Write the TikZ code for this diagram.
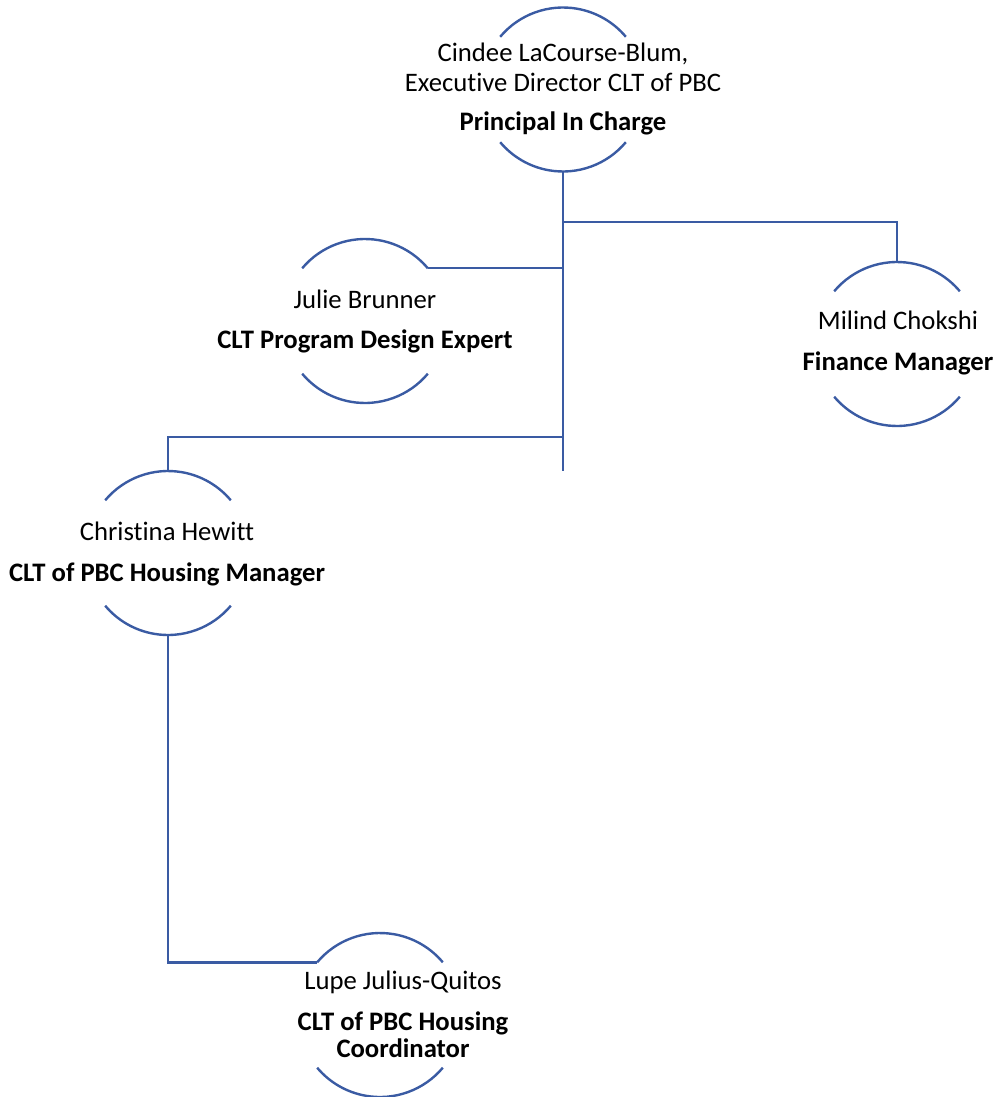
\documentclass[tikz,border=0pt]{standalone}
\usepackage{fontspec}
\setmainfont{Carlito}[Ligatures={NoCommon}]
\definecolor{lineblue}{HTML}{3A5BA3}
\newcommand{\orgperson}[3]{%
  \path (#2,#3) coordinate (#1)
    +(0,-82) coordinate (#1-top)
    +(0,82) coordinate (#1-bot)
    +(220:82) coordinate (#1-tl)
    +(320:82) coordinate (#1-tr)
    +(40:82) coordinate (#1-br);
  \draw[arcline] (#1-tl) arc[start angle=220, end angle=320, radius=82];
  \draw[arcline] (#1-br) arc[start angle=40, end angle=140, radius=82];
}
\begin{document}
\begin{tikzpicture}[x=1pt,y=-1pt,
  arcline/.style={draw=lineblue, line width=2.4pt},
  conn/.style={draw=lineblue, line width=2.4pt},
  nm/.style={anchor=base, inner sep=0pt, font=\fontsize{26.7}{30}\selectfont},
  ttl/.style={anchor=base, inner sep=0pt, font=\fontsize{26.7}{30}\selectfont\bfseries}]
\useasboundingbox (0,0) rectangle (996,1097);

\orgperson{cindee}{563}{89.5}
\orgperson{julie}{365}{321}
\orgperson{milind}{897}{344}
\orgperson{christina}{168}{553}
\orgperson{lupe}{380}{1015}

% texts
\node[nm] (cindee-n1) at (563,62) {Cindee LaCourse-Blum,};
\node[nm] (cindee-n2) at (563,91.7) {Executive Director CLT of PBC};
\node[ttl] (cindee-t) at (563,131) {Principal In Charge};

\node[nm] (julie-n) at (365,308.3) {Julie Brunner};
\node[ttl] (julie-t) at (365,348.3) {CLT Program Design Expert};

\node[nm] (milind-n) at (898,329.3) {Milind Chokshi};
\node[ttl] (milind-t) at (898,370.7) {Finance Manager};

\node[nm] (christina-n) at (167,540) {Christina Hewitt};
\node[ttl] (christina-t) at (167,581.7) {CLT of PBC Housing Manager};

\node[nm] (lupe-n) at (403,989.3) {Lupe Julius-Quitos};
\node[ttl] (lupe-t1) at (403,1030.7) {CLT of PBC Housing};
\node[ttl] (lupe-t2) at (403,1057.3) {Coordinator};

% connectors
\coordinate (trunk-end) at (563,471);
\coordinate (j-milind) at (563,222);
\coordinate (j-christina) at (563,436.7);
\draw[conn] (cindee-bot) -- (trunk-end);
\draw[conn] (j-milind) -| (milind-top);
\draw[conn] (julie-tr) -- (julie-tr -| trunk-end);
\draw[conn] (j-christina) -| (christina-top);
\draw[conn] (christina-bot) |- (lupe-tl);
\end{tikzpicture}
\end{document}
